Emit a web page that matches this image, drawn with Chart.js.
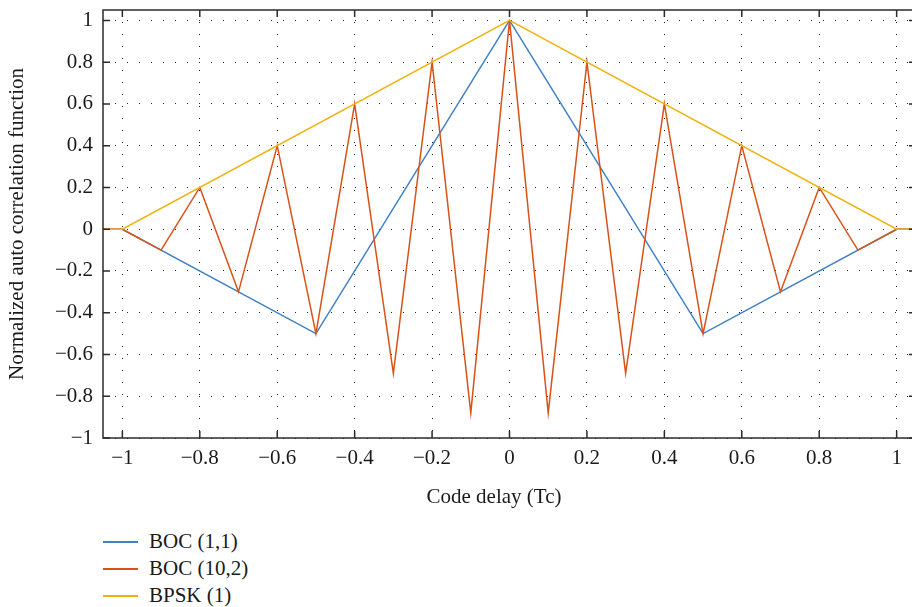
<!DOCTYPE html>
<html>
<head>
<meta charset="utf-8">
<script src="https://cdn.jsdelivr.net/npm/chart.js@4/dist/chart.umd.min.js"></script>
<style>
    html, body { margin: 0; padding: 0; background: #fff; overflow: hidden; width: 912px; height: 607px; }
    #wrap { position: absolute; left: 0; top: 0; width: 916px; height: 520px; }
    #legenda { position: absolute; left: 103px; top: 528px; font-family: "Liberation Serif", serif; font-size: 21px; color: #1a1a1a; }
    .item { height: 27px; line-height: 27px; display: flex; align-items: center; }
    .amostra { width: 35px; height: 2px; margin-right: 11px; }
</style>
</head>
<body>
<div id="wrap"><canvas id="correlacaoChart" width="916" height="520"></canvas></div>
<div id="legenda"></div>
<script>
// dados
const xTicks = [-1, -0.8, -0.6, -0.4, -0.2, 0, 0.2, 0.4, 0.6, 0.8, 1];
const yTicks = [-1, -0.8, -0.6, -0.4, -0.2, 0, 0.2, 0.4, 0.6, 0.8, 1];

const xBoc11 = [-1.05, -1, -0.5, 0, 0.5, 1, 1.05];
const yBoc11 = [0, 0, -0.5, 1, -0.5, 0, 0];

const xBoc102 = [-1.05, -1, -0.9, -0.8, -0.7, -0.6, -0.5, -0.4, -0.3, -0.2, -0.1, 0,
    0.1, 0.2, 0.3, 0.4, 0.5, 0.6, 0.7, 0.8, 0.9, 1, 1.05];
const yBoc102 = [0, 0, -0.1, 0.2, -0.3, 0.4, -0.5, 0.6, -0.69, 0.8, -0.88, 1,
    -0.88, 0.8, -0.69, 0.6, -0.5, 0.4, -0.3, 0.2, -0.1, 0, 0];

const xBpsk = [-1.05, -1, 0, 1, 1.05];
const yBpsk = [0, 0, 1, 0, 0];

const series = [
    { label: "BOC (1,1)", xs: xBoc11, ys: yBoc11, cor: "#3f80c6", ordem: 2 },
    { label: "BOC (10,2)", xs: xBoc102, ys: yBoc102, cor: "#d95319", ordem: 1 },
    { label: "BPSK (1)", xs: xBpsk, ys: yBpsk, cor: "#efb20f", ordem: 0 }
];

const fonte = "Liberation Serif, serif";

function formatar(v) {
    const r = Math.round(v * 10) / 10;
    return r < 0 ? "\u2212" + Math.abs(r) : String(r);
}

// moldura com marcas para dentro + titulo do eixo x
const moldura = {
    id: "moldura",
    afterDatasetsDraw(chart) {
        const { ctx, chartArea: a, scales } = chart;
        ctx.save();
        ctx.strokeStyle = "#2b2b2b";
        ctx.lineWidth = 1.5;
        ctx.strokeRect(a.left, a.top, a.right - a.left, a.bottom - a.top);
        ctx.beginPath();
        xTicks.forEach(v => {
            const px = scales.x.getPixelForValue(v);
            ctx.moveTo(px, a.bottom); ctx.lineTo(px, a.bottom - 7);
            ctx.moveTo(px, a.top); ctx.lineTo(px, a.top + 7);
        });
        yTicks.forEach(v => {
            const py = scales.y.getPixelForValue(v);
            ctx.moveTo(a.left, py); ctx.lineTo(a.left + 7, py);
            ctx.moveTo(a.right, py); ctx.lineTo(a.right - 7, py);
        });
        ctx.stroke();
        ctx.fillStyle = "#1a1a1a";
        ctx.font = "21px " + fonte;
        ctx.textAlign = "center";
        ctx.textBaseline = "middle";
        ctx.fillText("Code delay (Tc)", 494, 497);
        ctx.restore();
    }
};

const ctx = document.getElementById("correlacaoChart").getContext("2d");

new Chart(ctx, {
    type: "line",

    data: {
        datasets: series.map(s => ({
            label: s.label,
            data: s.xs.map((x, i) => ({ x: x, y: s.ys[i] })),
            borderColor: s.cor,
            borderWidth: 1.5,
            pointRadius: 0,
            tension: 0,
            fill: false,
            order: s.ordem
        }))
    },

    options: {
        responsive: false,
        animation: false,
        layout: { padding: { top: 10, left: 0, right: 0, bottom: 0 } },

        plugins: {
            legend: { display: false },
            tooltip: { enabled: false }
        },

        scales: {
            x: {
                type: "linear",
                min: -1.05,
                max: 1.05,
                afterBuildTicks: s => { s.ticks = xTicks.map(v => ({ value: v })); },
                afterFit: s => { s.height = 82; s.paddingLeft = 0; s.paddingRight = 0; },
                ticks: {
                    color: "#1a1a1a",
                    font: { family: fonte, size: 21 },
                    padding: 8,
                    maxRotation: 0,
                    autoSkip: false,
                    callback: v => formatar(v)
                },
                grid: { color: "#222", lineWidth: 1, drawTicks: false },
                border: { display: false, dash: [1, 11] }
            },

            y: {
                type: "linear",
                min: -1,
                max: 1.05,
                afterBuildTicks: s => { s.ticks = yTicks.map(v => ({ value: v })); },
                afterFit: s => { s.width = 103; s.paddingTop = 0; s.paddingBottom = 0; },
                ticks: {
                    color: "#1a1a1a",
                    font: { family: fonte, size: 21 },
                    padding: 10,
                    autoSkip: false,
                    callback: v => formatar(v)
                },
                title: {
                    display: true,
                    text: "Normalized auto correlation function",
                    color: "#1a1a1a",
                    font: { family: fonte, size: 21 },
                    padding: { top: 5, bottom: 0 }
                },
                grid: { color: "#222", lineWidth: 1, drawTicks: false },
                border: { display: false, dash: [1, 11] }
            }
        }
    },

    plugins: [moldura]
});

const legenda = document.getElementById("legenda");
series.forEach(s => {
    const linha = document.createElement("div");
    linha.className = "item";
    linha.innerHTML = '<span class="amostra" style="background:' + s.cor + '"></span><span>' + s.label + '</span>';
    legenda.appendChild(linha);
});
</script>
</body>
</html>
